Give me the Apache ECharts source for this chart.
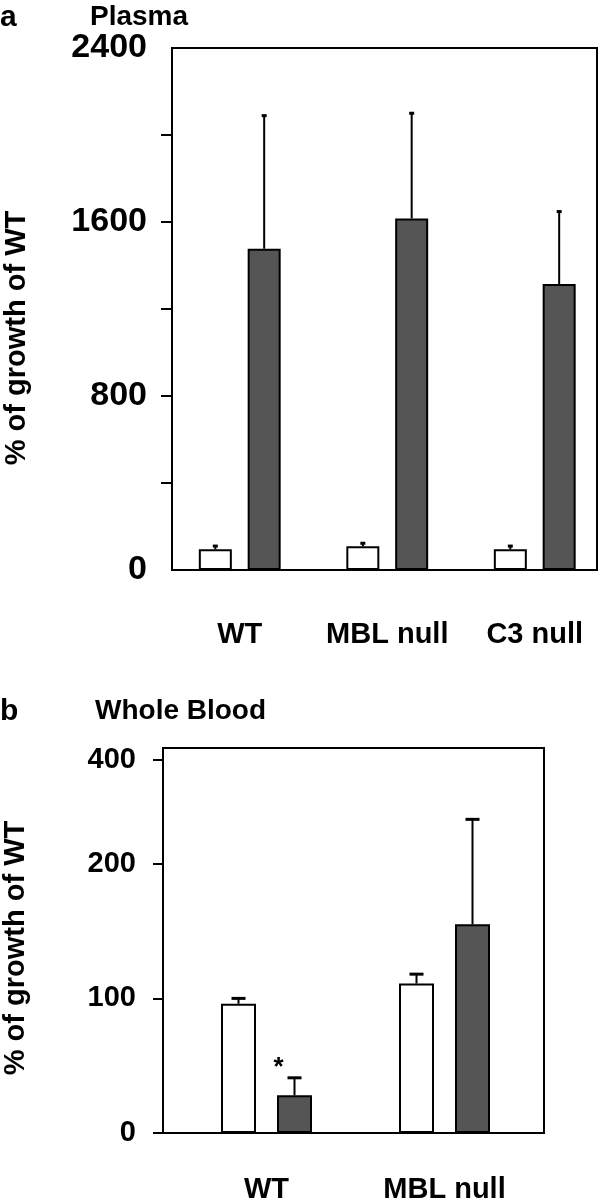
<!DOCTYPE html>
<html>
<head>
<meta charset="utf-8">
<script src="https://cdn.jsdelivr.net/npm/echarts@6/dist/echarts.min.js"></script>
<style>
html,body{margin:0;padding:0;background:#fff;}
#chart{width:602px;height:1199px;}
</style>
</head>
<body>
<div id="chart"></div>
<script>
// ---- Panel a: Plasma ----
const categoriesA = ['WT', 'MBL null', 'C3 null'];
const plasmaControl = [95, 109, 95];
const plasmaControlErr = [15, 14, 15];
const plasmaTreated = [1477, 1616, 1315];
const plasmaTreatedErr = [612, 484, 333];
const yTickValuesA = [400, 800, 1200, 1600, 2000];
const yLabelValuesA = [0, 800, 1600, 2400];

// ---- Panel b: Whole Blood ----
const categoriesB = ['WT', 'MBL null'];
const bloodControl = [96, 111];
const bloodControlErr = [4, 7];
const bloodTreated = [28, 155];
const bloodTreatedErr = [13, 78];
const bloodTreatedSig = ['*', ''];
const yTickValuesB = [0, 100, 200, 277];
const yTickLabelsB = ['0', '100', '200', '400'];

const FONT = '"Liberation Sans", Arial, Helvetica, sans-serif';
const DARK = '#555555';

const chart = echarts.init(document.getElementById('chart'), null, {renderer: 'canvas'});

function errorRender(offset, capW, sigArr) {
  return function (params, api) {
    const i = api.value(0);
    const base = api.coord([i, api.value(1)]);
    const top = api.coord([i, api.value(1) + api.value(2)]);
    const x = base[0] + offset;
    const children = [
      {type: 'line', shape: {x1: x, y1: base[1], x2: x, y2: top[1]}, style: {stroke: '#000', lineWidth: 2}},
      {type: 'line', shape: {x1: x - capW / 2, y1: top[1], x2: x + capW / 2, y2: top[1]}, style: {stroke: '#000', lineWidth: 3}}
    ];
    if (sigArr && sigArr[params.dataIndex]) {
      children.push({
        type: 'text', x: x - 16, y: top[1] - 10,
        style: {text: sigArr[params.dataIndex], font: 'bold 26px ' + FONT, fill: '#000', align: 'center', verticalAlign: 'middle'}
      });
    }
    return {type: 'group', children: children};
  };
}

const wA = 33, gA = 0.48, wB = 35, gB = 0.60;
const offA = (wA + wA * gA) / 2;
const offB = (wB + wB * gB) / 2;

const barStyleWhite = {color: '#ffffff', borderColor: '#000', borderWidth: 2};
const barStyleDark = {color: DARK, borderColor: '#000', borderWidth: 2};

const option = {
  backgroundColor: '#fff',
  animation: false,
  grid: [
    {left: 172, top: 48, width: 425, height: 522, show: true, borderColor: '#000', borderWidth: 2, backgroundColor: 'transparent', outerBoundsMode: 'none'},
    {left: 166, top: 48, width: 442.5, height: 522, outerBoundsMode: 'none'},
    {left: 163, top: 748, width: 381, height: 385, show: true, borderColor: '#000', borderWidth: 2, backgroundColor: 'transparent', outerBoundsMode: 'none'},
    {left: 177.5, top: 748, width: 356, height: 385, outerBoundsMode: 'none'}
  ],
  xAxis: [
    {gridIndex: 0, type: 'value', min: 0, max: 1, show: false},
    {gridIndex: 1, type: 'category', data: categoriesA, axisLine: {show: false}, axisTick: {show: false},
      axisLabel: {interval: 0, hideOverlap: false, margin: 50, color: '#000', fontSize: 29, fontWeight: 'bold', fontFamily: FONT}},
    {gridIndex: 2, type: 'value', min: 0, max: 1, show: false},
    {gridIndex: 3, type: 'category', data: categoriesB, axisLine: {show: false}, axisTick: {show: false},
      axisLabel: {interval: 0, hideOverlap: false, margin: 42, color: '#000', fontSize: 29, fontWeight: 'bold', fontFamily: FONT}}
  ],
  yAxis: [
    {gridIndex: 0, type: 'value', min: 0, max: 2400, splitLine: {show: false},
      axisLine: {show: true, lineStyle: {color: '#000', width: 2}},
      axisTick: {show: true, length: 11, inside: false, customValues: yTickValuesA, lineStyle: {color: '#000', width: 2}},
      axisLabel: {customValues: yLabelValuesA, margin: 25, color: '#000', fontSize: 34, fontWeight: 'bold', fontFamily: FONT,
        formatter: function (v) { return String(v); }}},
    {gridIndex: 1, type: 'value', min: 0, max: 2400, show: false, splitLine: {show: false}},
    {gridIndex: 2, type: 'value', min: 0, max: 286, splitLine: {show: false},
      axisLine: {show: true, lineStyle: {color: '#000', width: 2}},
      axisTick: {show: true, length: 10, inside: false, customValues: yTickValuesB, lineStyle: {color: '#000', width: 2}},
      axisLabel: {customValues: yTickValuesB, margin: 27, color: '#000', fontSize: 29, fontWeight: 'bold', fontFamily: FONT,
        formatter: function (v) { const k = yTickValuesB.indexOf(v); return k >= 0 ? yTickLabelsB[k] : ''; }}},
    {gridIndex: 3, type: 'value', min: 0, max: 286, show: false, splitLine: {show: false}}
  ],
  series: [
    {type: 'bar', xAxisIndex: 1, yAxisIndex: 1, data: plasmaControl, barWidth: wA, barGap: (gA * 100) + '%', itemStyle: barStyleWhite},
    {type: 'bar', xAxisIndex: 1, yAxisIndex: 1, data: plasmaTreated, barWidth: wA, barGap: (gA * 100) + '%', itemStyle: barStyleDark},
    {type: 'custom', xAxisIndex: 1, yAxisIndex: 1, z: 5, clip: false,
      data: plasmaControl.map((v, i) => [i, v, plasmaControlErr[i]]), renderItem: errorRender(-offA, 5)},
    {type: 'custom', xAxisIndex: 1, yAxisIndex: 1, z: 5, clip: false,
      data: plasmaTreated.map((v, i) => [i, v, plasmaTreatedErr[i]]), renderItem: errorRender(offA, 5)},

    {type: 'bar', xAxisIndex: 3, yAxisIndex: 3, data: bloodControl, barWidth: wB, barGap: (gB * 100) + '%', itemStyle: barStyleWhite},
    {type: 'bar', xAxisIndex: 3, yAxisIndex: 3, data: bloodTreated, barWidth: wB, barGap: (gB * 100) + '%', itemStyle: barStyleDark},
    {type: 'custom', xAxisIndex: 3, yAxisIndex: 3, z: 5, clip: false,
      data: bloodControl.map((v, i) => [i, v, bloodControlErr[i]]), renderItem: errorRender(-offB, 14)},
    {type: 'custom', xAxisIndex: 3, yAxisIndex: 3, z: 5, clip: false,
      data: bloodTreated.map((v, i) => [i, v, bloodTreatedErr[i]]), renderItem: errorRender(offB, 14, bloodTreatedSig)}
  ],
  graphic: [
    {type: 'text', left: 0, top: 3, style: {text: 'a', font: 'bold 30px ' + FONT, fill: '#000'}},
    {type: 'text', left: 90, top: 3, style: {text: 'Plasma', font: 'bold 28px ' + FONT, fill: '#000'}},
    {type: 'text', left: 0, top: 697, style: {text: 'b', font: 'bold 30px ' + FONT, fill: '#000'}},
    {type: 'text', left: 95, top: 697, style: {text: 'Whole Blood', font: 'bold 28px ' + FONT, fill: '#000'}},
    {type: 'text', x: 17, y: 338, rotation: Math.PI / 2,
      style: {text: '% of growth of WT', font: 'bold 29px ' + FONT, fill: '#000', align: 'center', verticalAlign: 'middle'}},
    {type: 'text', x: 16, y: 948, rotation: Math.PI / 2,
      style: {text: '% of growth of WT', font: 'bold 29px ' + FONT, fill: '#000', align: 'center', verticalAlign: 'middle'}}
  ]
};

chart.setOption(option);
</script>
</body>
</html>
